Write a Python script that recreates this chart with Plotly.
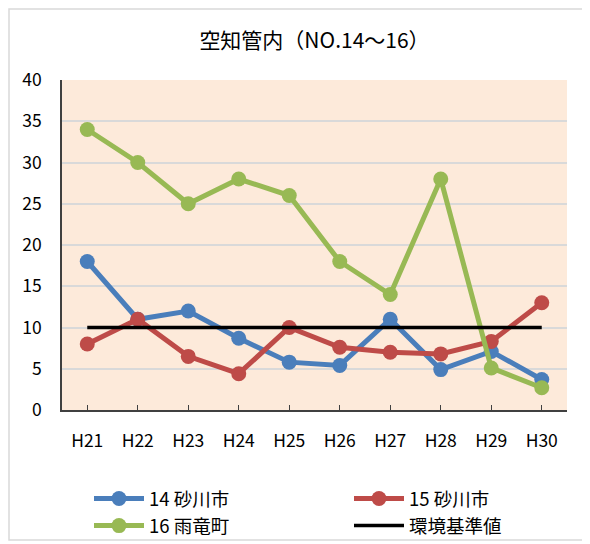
import plotly.graph_objects as go

categories = ["H21", "H22", "H23", "H24", "H25", "H26", "H27", "H28", "H29", "H30"]
s14 = [18, 11, 12, 8.7, 5.8, 5.4, 11, 4.9, 7.1, 3.7]
s15 = [8.0, 11, 6.5, 4.4, 10, 7.6, 7.0, 6.8, 8.3, 13]
s16 = [34, 30, 25, 28, 26, 18, 14, 28, 5.1, 2.7]
standard = [10] * 10
y_ticks = [0, 5, 10, 15, 20, 25, 30, 35, 40]

FONT = "Noto Sans CJK JP"

fig = go.Figure()
fig.add_trace(go.Scatter(x=categories, y=s14, name="14 砂川市", mode="lines+markers", legend="legend",
                         line=dict(color="#4A7EBB", width=5), marker=dict(size=15, color="#4A7EBB")))
fig.add_trace(go.Scatter(x=categories, y=s15, name="15 砂川市", mode="lines+markers", legend="legend2",
                         line=dict(color="#BE4B48", width=5), marker=dict(size=15, color="#BE4B48")))
fig.add_trace(go.Scatter(x=categories, y=s16, name="16 雨竜町", mode="lines+markers", legend="legend",
                         line=dict(color="#98B954", width=5), marker=dict(size=15, color="#98B954")))
fig.add_trace(go.Scatter(x=categories, y=standard, name="環境基準値", mode="lines", legend="legend2",
                         line=dict(color="#000000", width=3.5)))

# page body has an 8px default margin; work in screen pixels and shift
OFF = 8
W, H = 590 - OFF, 544 - OFF
L, R, T, B = 62 - OFF, 567 - OFF, 80 - OFF, 410 - OFF

def px_x(p):
    return (p - OFF - L) / (R - L)

def px_y(p):
    return (B - (p - OFF)) / (B - T)

fig.add_shape(type="rect", xref="paper", yref="paper",
              x0=px_x(9), x1=px_x(585), y0=px_y(540), y1=px_y(9),
              line=dict(color="#D9D9D9", width=1.5), fillcolor="rgba(0,0,0,0)", layer="below")

leg_common = dict(orientation="v", yanchor="top", tracegroupgap=0, itemwidth=50,
                  bgcolor="rgba(0,0,0,0)", font=dict(size=18.5, family=FONT))

fig.update_layout(
    width=W, height=H,
    margin=dict(l=L, r=W - R, t=T, b=H - B, autoexpand=False),
    paper_bgcolor="white",
    plot_bgcolor="#FDEADA",
    font=dict(family=FONT, size=17, color="#000000"),
    title=dict(text="空知管内（NO.14～16）", x=0.5, xref="paper", xanchor="center",
               y=1 - (41 - OFF) / H, yanchor="middle", font=dict(size=21, family=FONT)),
    showlegend=True,
    legend=dict(x=px_x(89), y=px_y(480), **leg_common),
    legend2=dict(x=px_x(349), y=px_y(480), **leg_common),
    xaxis=dict(type="category", range=[-0.5, 9.5], showgrid=False,
               showline=True, linecolor="#404040", linewidth=1.5,
               ticks="inside", ticklen=5, tickcolor="#404040",
               tickfont=dict(size=17.5), ticklabelstandoff=14),
    yaxis=dict(range=[0, 40], tickvals=y_ticks, showgrid=True, gridcolor="#D9D9D9", gridwidth=1.5,
               showline=True, linecolor="#404040", linewidth=1.5, zeroline=False,
               ticks="", tickfont=dict(size=17.5), ticklabelstandoff=15),
)

fig.write_html("out.html")
